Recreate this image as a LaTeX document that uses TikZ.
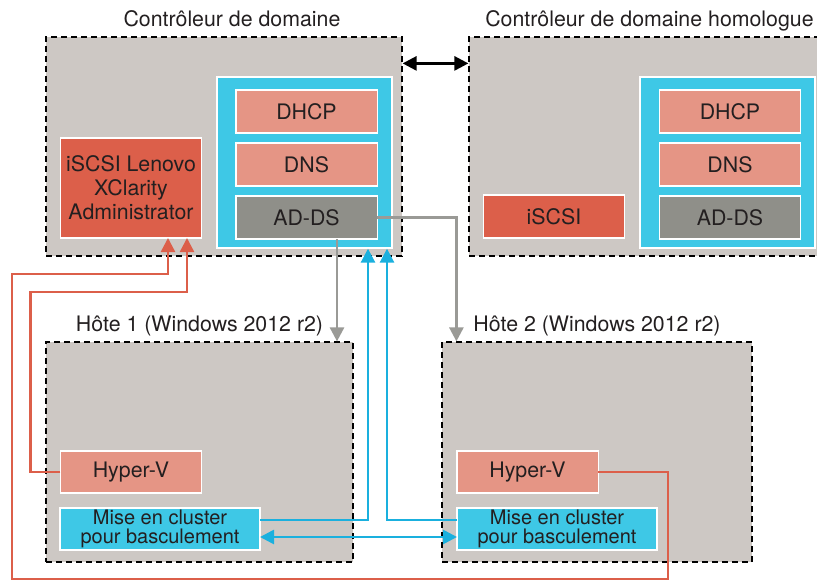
\documentclass[tikz,border=0pt]{standalone}
\usepackage{fontspec}
\setmainfont{TeX Gyre Heros}
\usepackage{tikz}
\usetikzlibrary{calc}
\usetikzlibrary{positioning, arrows.meta}
\definecolor{mgray}{HTML}{CDC8C4}
\definecolor{mcyan}{HTML}{3EC8E6}
\definecolor{msalmon}{HTML}{E59585}
\definecolor{mred}{HTML}{DC5F4A}
\definecolor{mdark}{HTML}{8F8F89}
\definecolor{marrow}{HTML}{9A9A96}
\definecolor{mline}{HTML}{1AB0DE}
\definecolor{mtext}{HTML}{231F20}
\tikzset{
  >={Triangle[length=10.5pt,width=10.5pt]}, % filled heads everywhere
  cont/.style={draw=black,dash pattern=on 4.5pt off 3pt,line width=0.9pt,fill=mgray,inner sep=0,minimum height=164.25pt},
  group/.style={draw=white,line width=1pt,fill=mcyan,inner sep=0,minimum width=131.25pt,minimum height=128.25pt},
  svc/.style={draw=white,line width=1pt,inner sep=0,outer sep=0,minimum width=106pt,minimum height=32.25pt,align=center},
  svc light/.style={svc,fill=msalmon},
  svc red/.style={svc,fill=mred},
  svc dark/.style={svc,fill=mdark},
  svc clu/.style={svc,fill=mcyan,minimum width=150pt,minimum height=31.5pt,font=\fontsize{15}{14.5}\selectfont},
  title/.style={anchor=base},
  link gray/.style={->,line width=2pt,marrow},
  link blue/.style={line width=2pt,mline},
  link red/.style={->,line width=1.8pt,mred}
}

\begin{document}
\begin{tikzpicture}[x=0.75pt, y=-0.75pt, every node/.style={font=\fontsize{16}{18}\selectfont, text=mtext}]
  \useasboundingbox (0,0) rectangle (817,581);
  \clip (0,0) rectangle (817,581);

  % Domain controllers
  \node[cont, minimum width=267pt] (dcl) at (224,146.5) {};
  \node[cont, minimum width=270.75pt] (dcr) at (649.5,146.5) {};
  \node[title, above=7.5pt of dcl.north, anchor=base, xshift=6pt] (tdcl) {Contrôleur de domaine};
  \node[title, above=7.5pt of dcr.north, anchor=base] (tdcr) {Contrôleur de domaine homologue};

  % Services, left controller
  \node[group] (bll) at (304.5,162.5) {};
  \node[svc light] (dhcpl) at (306.5,111.5) {DHCP};
  \node[svc light, below=7.5pt of dhcpl] (dnsl) {DNS};
  \node[svc dark, below=7.5pt of dnsl] (adl) {AD-DS};
  \node[svc red, minimum height=75pt] (isl) at (131,188) {iSCSI Lenovo\\XClarity\\Administrator};

  % Services, peer controller
  \node[group] (blr) at (727.5,162.5) {};
  \node[svc light] (dhcpr) at (730,111.5) {DHCP};
  \node[svc light, below=7.5pt of dhcpr] (dnsr) {DNS};
  \node[svc dark, below=7.5pt of dnsr] (adr) {AD-DS};
  \node[svc red] (isr) at (554,216.5) {iSCSI};

  % Hosts
  \node[cont, minimum width=230.25pt, minimum height=165pt] (h1) at (199.5,452) {};
  \node[cont, minimum width=232.5pt, minimum height=165pt] (h2) at (597,452) {};
  \node[title, above=7.5pt of h1.north, anchor=base] (th1) {Hôte 1 (Windows 2012 r2)};
  \node[title, above=7.5pt of h2.north, anchor=base] (th2) {Hôte 2 (Windows 2012 r2)};

  \node[svc light, minimum height=31.5pt] (hv1) at (131,472) {Hyper-V};
  \node[svc clu] (cl1) at (160,529) {Mise en cluster\\pour basculement};
  \node[svc light, minimum height=31.5pt] (hv2) at (527.5,472) {Hyper-V};
  \node[svc clu] (cl2) at (557,529) {Mise en cluster\\pour basculement};

  % Controller sync
  \draw[<->, line width=2pt, black] ([yshift=-20.25pt]dcl.north east) -- ([yshift=-20.25pt]dcr.north west);

  % AD-DS -> hosts
  \coordinate (g1) at ($(adl.south)+(30.5,0)$);
  \draw[link gray] (g1) -- (g1 |- h1.north);
  \draw[link gray] (adl.east) -| ($(h2.north west)+(15,0)$);

  % Clustering
  \coordinate (b1) at ($(bll.south)+(63.5,0)$);
  \coordinate (b2) at ($(bll.south)+(82.5,0)$);
  \draw[link blue, ->] ($(cl1.east)+(0,-9)$) -| (b1);
  \draw[link blue, ->] ($(cl2.west)+(0,-9)$) -| (b2);
  \draw[link blue, <->] ($(cl1.east)+(0,8)$) -- ($(cl2.west)+(0,8)$);

  % Hyper-V -> iSCSI
  \draw[link red] (hv1.west) -- ++(-30,0) |- ($(isl.south)+(56,54)$) -- ($(isl.south)+(56,0)$);
  \draw[link red] (hv2.east) -- ++(70,0) -- ++(0,107) -- ++(-656,0) -- ++(0,-305) -| ($(isl.south)+(37,0)$);

\end{tikzpicture}
\end{document}
